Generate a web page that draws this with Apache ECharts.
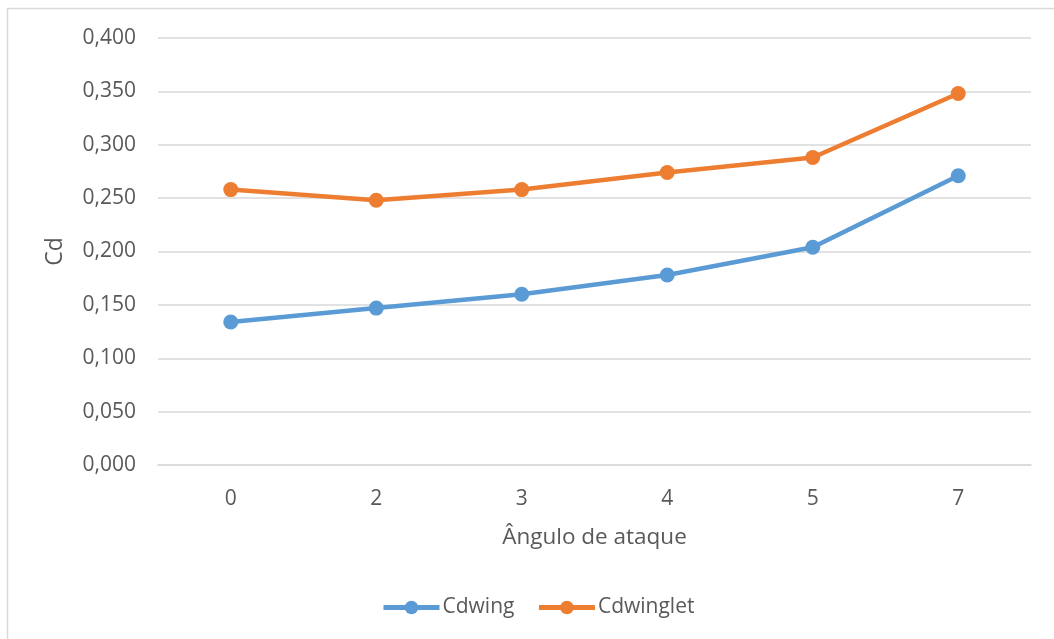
<!DOCTYPE html>
<html>
<head>
<meta charset="utf-8">
<title>Cd vs Ângulo de ataque</title>
<script src="https://cdn.jsdelivr.net/npm/echarts@6/dist/echarts.min.js"></script>
<style>
  html, body { margin: 0; padding: 0; background: #ffffff; }
  #chart { width: 1054px; height: 639px; }
</style>
</head>
<body>
<div id="chart"></div>
<script>
// Angles of attack (category axis)
const angles = ['0', '2', '3', '4', '5', '7'];
// Drag coefficients
const cdWing = [0.134, 0.147, 0.160, 0.178, 0.204, 0.271];
const cdWinglet = [0.258, 0.248, 0.258, 0.274, 0.288, 0.348];

const textColor = '#595959';
const gridColor = '#d9d9d9';
const fontFamily = '"Open Sans", "Noto Sans", sans-serif';

const chart = echarts.init(document.getElementById('chart'));

function lineSeries(name, data, color) {
  return {
    name: name,
    type: 'line',
    data: data,
    symbol: 'circle',
    symbolSize: 15,
    lineStyle: { width: 4.5, color: color },
    itemStyle: { color: color },
    emphasis: { disabled: true },
    z: 3
  };
}

chart.setOption({
  animation: false,
  backgroundColor: '#ffffff',
  textStyle: { fontFamily: fontFamily },
  graphic: [{
    type: 'rect',
    shape: { x: 7.5, y: 8.5, width: 1060, height: 650 },
    style: { fill: 'none', stroke: '#d9d9d9', lineWidth: 1.5 },
    silent: true
  }],
  grid: { left: 158, right: 23, top: 38, bottom: 174 },
  legend: {
    left: 376,
    top: 592,
    itemWidth: 56,
    itemHeight: 17,
    itemGap: 22,
    lineStyle: { width: 5 },
    textStyle: { color: textColor, fontSize: 21, fontFamily: fontFamily, padding: [0, 0, 0, -2] },
    data: ['Cdwing', 'Cdwinglet']
  },
  xAxis: {
    type: 'category',
    data: angles,
    boundaryGap: true,
    name: 'Ângulo de ataque',
    nameLocation: 'middle',
    nameGap: 61,
    nameTextStyle: { color: textColor, fontSize: 22.5, fontFamily: fontFamily },
    axisLine: { show: true, lineStyle: { color: gridColor, width: 1.5 } },
    axisTick: { show: false },
    axisLabel: { color: textColor, fontSize: 21, margin: 24, fontFamily: fontFamily },
    splitLine: { show: false }
  },
  yAxis: {
    type: 'value',
    min: 0,
    max: 0.4,
    interval: 0.05,
    name: 'Cd',
    nameLocation: 'middle',
    nameGap: 91,
    nameRotate: 90,
    nameTextStyle: { color: textColor, fontSize: 23, fontFamily: fontFamily },
    axisLine: { show: false },
    axisTick: { show: false },
    axisLabel: {
      color: textColor,
      fontSize: 21,
      margin: 22,
      fontFamily: fontFamily,
      formatter: v => v.toFixed(3).replace('.', ',')
    },
    splitLine: { show: true, lineStyle: { color: gridColor, width: 1.5 } }
  },
  series: [
    lineSeries('Cdwing', cdWing, '#5B9BD5'),
    lineSeries('Cdwinglet', cdWinglet, '#ED7D31')
  ]
});
</script>
</body>
</html>
